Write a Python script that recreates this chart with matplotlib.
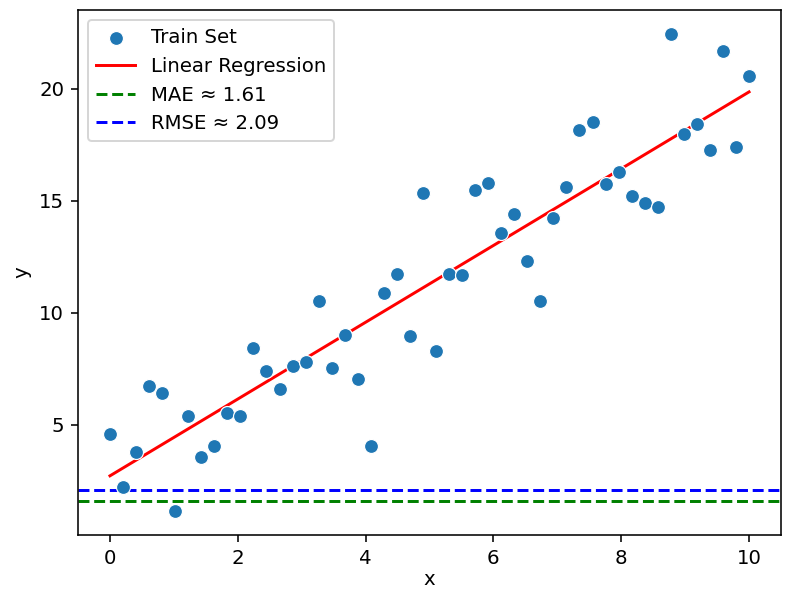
"""Scatter of a training set with its linear fit and the MAE / RMSE levels"""
import matplotlib.pyplot as plt
import numpy as np

# data
x_train = np.linspace(0, 10, 50)
y_train = [4.58, 2.22, 3.79, 6.73, 6.41, 1.15, 5.39, 3.56, 4.06, 5.52,
           5.39, 8.44, 7.41, 6.60, 7.61, 7.80, 10.54, 7.54, 9.00, 7.04,
           4.06, 10.90, 11.73, 8.95, 15.36, 8.30, 11.73, 11.68, 15.47, 15.78,
           13.58, 14.40, 12.30, 10.53, 14.22, 15.60, 18.15, 18.53, 15.74, 16.29,
           15.22, 14.91, 14.72, 22.45, 17.96, 18.45, 17.26, 21.68, 17.38, 20.57]
mae = 1.61
rmse = 2.09

slope, intercept = np.polyfit(x_train, y_train, 1)
y_fit = slope * x_train + intercept

dpi = 142
fig = plt.figure(figsize=(785 / dpi, 590 / dpi), dpi=dpi)
ax = fig.add_axes([0.0994, 0.0932, 0.8955, 0.8898])

ax.scatter(x_train, y_train, s=50, color='tab:blue', edgecolor='white',
           linewidth=0.6, label='Train Set', zorder=3)
ax.plot(x_train, y_fit, color='red', label='Linear Regression')
ax.axhline(mae, color='green', linestyle='--', label=f'MAE ≈ {mae:.2f}')
ax.axhline(rmse, color='blue', linestyle='--', label=f'RMSE ≈ {rmse:.2f}')

ax.set_xlabel('x', labelpad=1)
ax.set_ylabel('y')
ax.legend(loc='upper left')

fig.savefig('out.png', dpi=dpi)
